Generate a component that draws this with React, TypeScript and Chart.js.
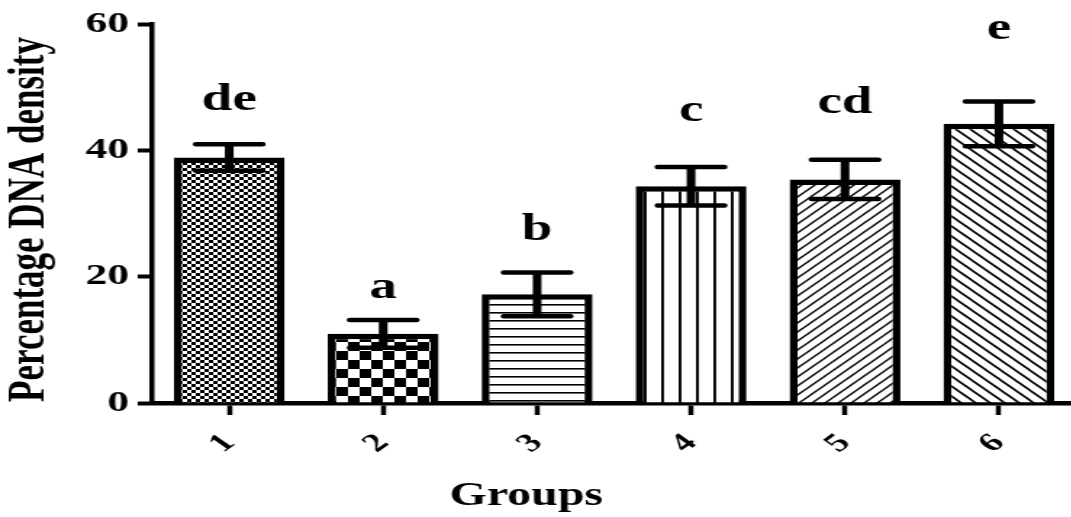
import React, { useEffect, useRef } from "react";
import { Chart, registerables } from "chart.js";

Chart.register(...registerables);

// Group means and standard errors (percentage DNA density)
const groups = ["1", "2", "3", "4", "5", "6"];
const meanDensity = [38.85, 10.95, 17.2, 34.3, 35.4, 44.2];
const semDensity = [2.1, 2.2, 3.45, 3.05, 3.1, 3.55];
// Significance letters and the value level at which each is printed
const sigLetters = ["de", "a", "b", "c", "cd", "e"];
const letterLevels = [47.9, 18.2, 27.3, 46.2, 47.5, 59.2];
const yTicks = [0, 20, 40, 60];

const SERIF = '"Liberation Serif", "Times New Roman", serif';
const STRETCH = 1.45;
const CANVAS_W = 742;
const CANVAS_H = 517;

type PatternKind = "fineCheck" | "bigCheck" | "hLines" | "vLines" | "diagUp" | "diagDown";
const barPatterns: PatternKind[] = ["fineCheck", "bigCheck", "hLines", "vLines", "diagUp", "diagDown"];

function makePattern(ctx: CanvasRenderingContext2D, kind: PatternKind): CanvasPattern | string {
  const tile = document.createElement("canvas");
  const t = tile.getContext("2d")!;
  const setSize = (w: number, h: number) => {
    tile.width = w;
    tile.height = h;
    t.fillStyle = "#fff";
    t.fillRect(0, 0, w, h);
    t.fillStyle = "#000";
    t.strokeStyle = "#000";
  };
  if (kind === "fineCheck") {
    setSize(6, 6);
    t.fillRect(0, 0, 3, 3);
    t.fillRect(3, 3, 3, 3);
  } else if (kind === "bigCheck") {
    setSize(16, 18);
    t.fillRect(0, 0, 8, 9);
    t.fillRect(8, 9, 8, 9);
  } else if (kind === "hLines") {
    setSize(8, 8);
    t.fillRect(0, 0, 8, 1.6);
  } else if (kind === "vLines") {
    setSize(12, 8);
    t.fillRect(0, 0, 1.9, 8);
  } else if (kind === "diagUp") {
    const n = 9;
    setSize(n, n);
    t.lineWidth = 1.4;
    t.beginPath();
    t.moveTo(0, n);
    t.lineTo(n, 0);
    t.moveTo(-1, 1);
    t.lineTo(1, -1);
    t.moveTo(n - 1, n + 1);
    t.lineTo(n + 1, n - 1);
    t.stroke();
  } else {
    const n = 10;
    setSize(n, n);
    t.lineWidth = 1.6;
    t.beginPath();
    t.moveTo(0, 0);
    t.lineTo(n, n);
    t.moveTo(-1, n - 1);
    t.lineTo(1, n + 1);
    t.moveTo(n - 1, -1);
    t.lineTo(n + 1, 1);
    t.stroke();
  }
  return ctx.createPattern(tile, "repeat") || "#fff";
}

// Error bars, significance letters and the axis titles
const annotations = {
  id: "annotations",
  afterDatasetsDraw(chart: any) {
    const { ctx, scales } = chart;
    const yScale = scales.y;
    const meta = chart.getDatasetMeta(0);
    ctx.save();
    ctx.strokeStyle = "#000";
    ctx.fillStyle = "#000";
    meta.data.forEach((bar: any, i: number) => {
      const x = bar.x;
      const yHi = yScale.getPixelForValue(meanDensity[i] + semDensity[i]);
      const yLo = yScale.getPixelForValue(meanDensity[i] - semDensity[i]);
      const half = bar.width * 0.3;
      ctx.lineCap = "butt";
      ctx.lineWidth = 6;
      ctx.beginPath();
      ctx.moveTo(x, yLo);
      ctx.lineTo(x, yHi);
      ctx.stroke();
      ctx.lineCap = "round";
      ctx.lineWidth = 4.5;
      ctx.beginPath();
      ctx.moveTo(x - half, yHi);
      ctx.lineTo(x + half, yHi);
      ctx.moveTo(x - half, yLo);
      ctx.lineTo(x + half, yLo);
      ctx.stroke();

      ctx.font = `bold 38px ${SERIF}`;
      ctx.textAlign = "center";
      ctx.textBaseline = "middle";
      ctx.fillText(sigLetters[i], x, yScale.getPixelForValue(letterLevels[i]));
    });

    // y-axis title
    ctx.save();
    ctx.translate(21, (chart.chartArea.top + chart.chartArea.bottom) / 2 + 6);
    ctx.rotate(-Math.PI / 2);
    ctx.font = `bold 35px ${SERIF}`;
    ctx.textAlign = "center";
    ctx.textBaseline = "middle";
    ctx.fillText("Percentage DNA density", 0, 0);
    ctx.restore();

    // x-axis title
    ctx.font = `bold 33px ${SERIF}`;
    ctx.textAlign = "center";
    ctx.textBaseline = "alphabetic";
    ctx.fillText("Groups", 363, 505);
    ctx.restore();
  },
};

export default function App() {
  const canvasRef = useRef<HTMLCanvasElement | null>(null);

  useEffect(() => {
    const canvas = canvasRef.current;
    if (!canvas) return;
    const ctx = canvas.getContext("2d")!;
    const fills = barPatterns.map((k) => makePattern(ctx, k));

    const chart = new Chart(canvas, {
      type: "bar",
      data: {
        labels: groups,
        datasets: [
          {
            data: meanDensity,
            backgroundColor: fills as any,
            borderColor: "#000",
            borderWidth: 5.5,
            barPercentage: 0.72,
            categoryPercentage: 1,
          },
        ],
      },
      options: {
        responsive: false,
        devicePixelRatio: 1,
        animation: false,
        layout: { padding: { top: 20, left: 0, right: 0, bottom: 0 } },
        plugins: { legend: { display: false }, tooltip: { enabled: false } },
        scales: {
          x: {
            type: "category",
            offset: true,
            grid: {
              display: true,
              drawOnChartArea: false,
              drawTicks: true,
              tickLength: 12,
              tickWidth: 3.5,
              tickColor: "#000",
              offset: false,
            },
            border: { display: true, color: "#000", width: 4.5 },
            ticks: {
              color: "#000",
              font: { family: SERIF, weight: "bold", size: 26 },
              minRotation: 45,
              maxRotation: 45,
              padding: 13,
            },
            afterFit: (s: any) => {
              s.height = 114;
            },
          },
          y: {
            min: 0,
            max: 60,
            afterBuildTicks: (s: any) => {
              s.ticks = yTicks.map((v) => ({ value: v }));
            },
            grid: {
              display: true,
              drawOnChartArea: false,
              drawTicks: true,
              tickLength: 10,
              tickWidth: 4,
              tickColor: "#000",
            },
            border: { display: true, color: "#000", width: 3.5 },
            ticks: {
              color: "#000",
              font: { family: SERIF, weight: "bold", size: 30 },
              padding: 6,
            },
            afterFit: (s: any) => {
              s.width = 105;
            },
          },
        },
      },
      plugins: [annotations],
    });
    return () => chart.destroy();
  }, []);

  return (
    <div
      style={{
        position: "fixed",
        left: 0,
        top: 0,
        width: 1071,
        height: 517,
        overflow: "hidden",
        background: "#fff",
      }}
    >
      <div style={{ transform: `scaleX(${STRETCH})`, transformOrigin: "0 0", width: CANVAS_W }}>
        <canvas ref={canvasRef} width={CANVAS_W} height={CANVAS_H} style={{ display: "block" }} />
      </div>
    </div>
  );
}
